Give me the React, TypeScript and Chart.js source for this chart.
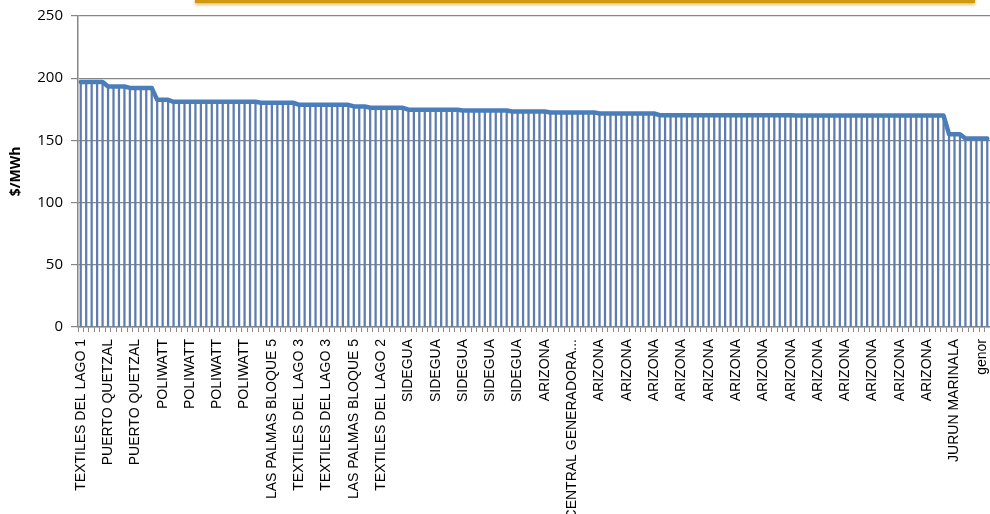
import React, { useEffect, useRef } from 'react';
import { Chart, registerables } from 'chart.js';

Chart.register(...registerables);

// Labels shown on every 5th category (Excel-style label interval)
const tickLabels: string[] = [
  'TEXTILES DEL LAGO 1',
  'PUERTO QUETZAL',
  'PUERTO QUETZAL',
  'POLIWATT',
  'POLIWATT',
  'POLIWATT',
  'POLIWATT',
  'LAS PALMAS BLOQUE 5',
  'TEXTILES DEL LAGO 3',
  'TEXTILES DEL LAGO 3',
  'LAS PALMAS BLOQUE 5',
  'TEXTILES DEL LAGO 2',
  'SIDEGUA',
  'SIDEGUA',
  'SIDEGUA',
  'SIDEGUA',
  'SIDEGUA',
  'ARIZONA',
  'CENTRAL GENERADORA...',
  'ARIZONA',
  'ARIZONA',
  'ARIZONA',
  'ARIZONA',
  'ARIZONA',
  'ARIZONA',
  'ARIZONA',
  'ARIZONA',
  'ARIZONA',
  'ARIZONA',
  'ARIZONA',
  'ARIZONA',
  'ARIZONA',
  'JURUN MARINALA',
  'genor',
];

const labelInterval = 5;

// $/MWh, one value per category
const prices: number[] = [
  197, 197, 197, 197, 197,
  193.3, 193.3, 193.3, 193.3,
  192.2, 192.2, 192.2, 192.2, 192.2,
  182.6, 182.6, 182.6,
  181, 181, 181, 181, 181, 181, 181, 181, 181, 181, 181, 181, 181, 181, 181, 181,
  180.2, 180.2, 180.2, 180.2, 180.2, 180.2, 180.2,
  178.6, 178.6, 178.6, 178.6, 178.6, 178.6, 178.6, 178.6, 178.6, 178.6,
  177.3, 177.3, 177.3,
  176.2, 176.2, 176.2, 176.2, 176.2, 176.2, 176.2,
  174.7, 174.7, 174.7, 174.7, 174.7, 174.7, 174.7, 174.7, 174.7, 174.7,
  174.0, 174.0, 174.0, 174.0, 174.0, 174.0, 174.0, 174.0, 174.0,
  173.2, 173.2, 173.2, 173.2, 173.2, 173.2, 173.2,
  172.5, 172.5, 172.5, 172.5, 172.5, 172.5, 172.5, 172.5, 172.5,
  171.6, 171.6, 171.6, 171.6, 171.6, 171.6, 171.6, 171.6, 171.6, 171.6, 171.6,
  170.3, 170.3, 170.3, 170.3, 170.3, 170.3, 170.3, 170.3, 170.3, 170.3,
  170.3, 170.3, 170.3, 170.3, 170.3, 170.3, 170.3, 170.3, 170.3, 170.3,
  170.2, 170.2, 170.2, 170.2, 170.2, 170.1, 170.1, 170.1, 170.1, 170.1,
  170.0, 170.0, 170.0, 170.0, 170.0, 170.0, 170.0, 170.0, 170.0, 170.0,
  170.0, 170.0, 170.0, 170.0, 170.0, 170.0, 170.0, 170.0, 170.0, 170.0,
  170.0, 170.0, 170.0,
  155, 155, 155,
  151.5, 151.5, 151.5, 151.5, 151.5,
];

const yTicks = { min: 0, max: 250, step: 50 };

const categories: string[] = prices.map((_, i) =>
  i % labelInterval === 0 ? tickLabels[i / labelInterval] ?? '' : ''
);

export default function App() {
  const canvasRef = useRef<HTMLCanvasElement | null>(null);

  useEffect(() => {
    const canvas = canvasRef.current;
    if (!canvas) return;
    const chart = new Chart(canvas, {
      type: 'bar',
      data: {
        labels: categories,
        datasets: [
          {
            type: 'line',
            data: prices,
            borderColor: '#4A7EBB',
            borderWidth: 4.5,
            pointRadius: 0,
            tension: 0,
            borderJoinStyle: 'round',
            borderCapStyle: 'round',
            order: 0,
          } as any,
          {
            type: 'bar',
            data: prices,
            backgroundColor: '#5E7DAE',
            barThickness: 1.6,
            order: 1,
          } as any,
        ],
      },
      options: {
        responsive: false,
        maintainAspectRatio: false,
        animation: false,
        layout: { padding: { top: 16, left: 0, right: 0, bottom: 0 } },
        plugins: {
          legend: { display: false },
          tooltip: { enabled: false },
          title: { display: false },
        },
        scales: {
          x: {
            offset: true,
            grid: {
              display: true,
              drawOnChartArea: false,
              drawTicks: true,
              tickLength: 5,
              color: '#8A8A8A',
              lineWidth: 1,
              offset: true,
            },
            border: { display: true, color: '#868686', width: 1.6 },
            ticks: {
              autoSkip: false,
              minRotation: 90,
              maxRotation: 90,
              padding: 7,
              color: '#000',
              font: { family: 'Liberation Sans', size: 14 },
              callback: (_v: any, i: number) => categories[i],
            },
            afterFit: (s: any) => {
              s.height = 187;
              s.paddingLeft = 0;
              s.paddingRight = 0;
            },
          } as any,
          y: {
            min: yTicks.min,
            max: yTicks.max,
            ticks: {
              stepSize: yTicks.step,
              padding: 8,
              color: '#000',
              font: { family: 'Open Sans', size: 15 },
            },
            grid: { color: '#868686', lineWidth: 1.2, tickLength: 7 },
            border: { display: true, color: '#868686', width: 1.5 },
            title: {
              display: true,
              text: '$/MWh',
              color: '#000',
              font: { family: 'Open Sans', size: 14, weight: 'bold' },
              padding: { top: 8, bottom: 0 },
            },
            afterFit: (s: any) => {
              s.width = 78;
              s.paddingTop = 0;
              s.paddingBottom = 0;
            },
          } as any,
        },
      },
    });
    return () => chart.destroy();
  }, []);

  return (
    <div
      style={{
        position: 'fixed',
        left: 0,
        top: 0,
        width: 990,
        height: 514,
        overflow: 'hidden',
        background: '#fff',
      }}
    >
      <canvas ref={canvasRef} width={990} height={514} style={{ display: 'block' }} />
      <div
        style={{
          position: 'absolute',
          left: 195,
          top: -22,
          width: 780,
          height: 22,
          background: '#F3D88A',
          borderBottom: '3px solid #D09A10',
          boxShadow: '0 2px 3px rgba(190,140,20,0.55)',
        }}
      />
    </div>
  );
}
